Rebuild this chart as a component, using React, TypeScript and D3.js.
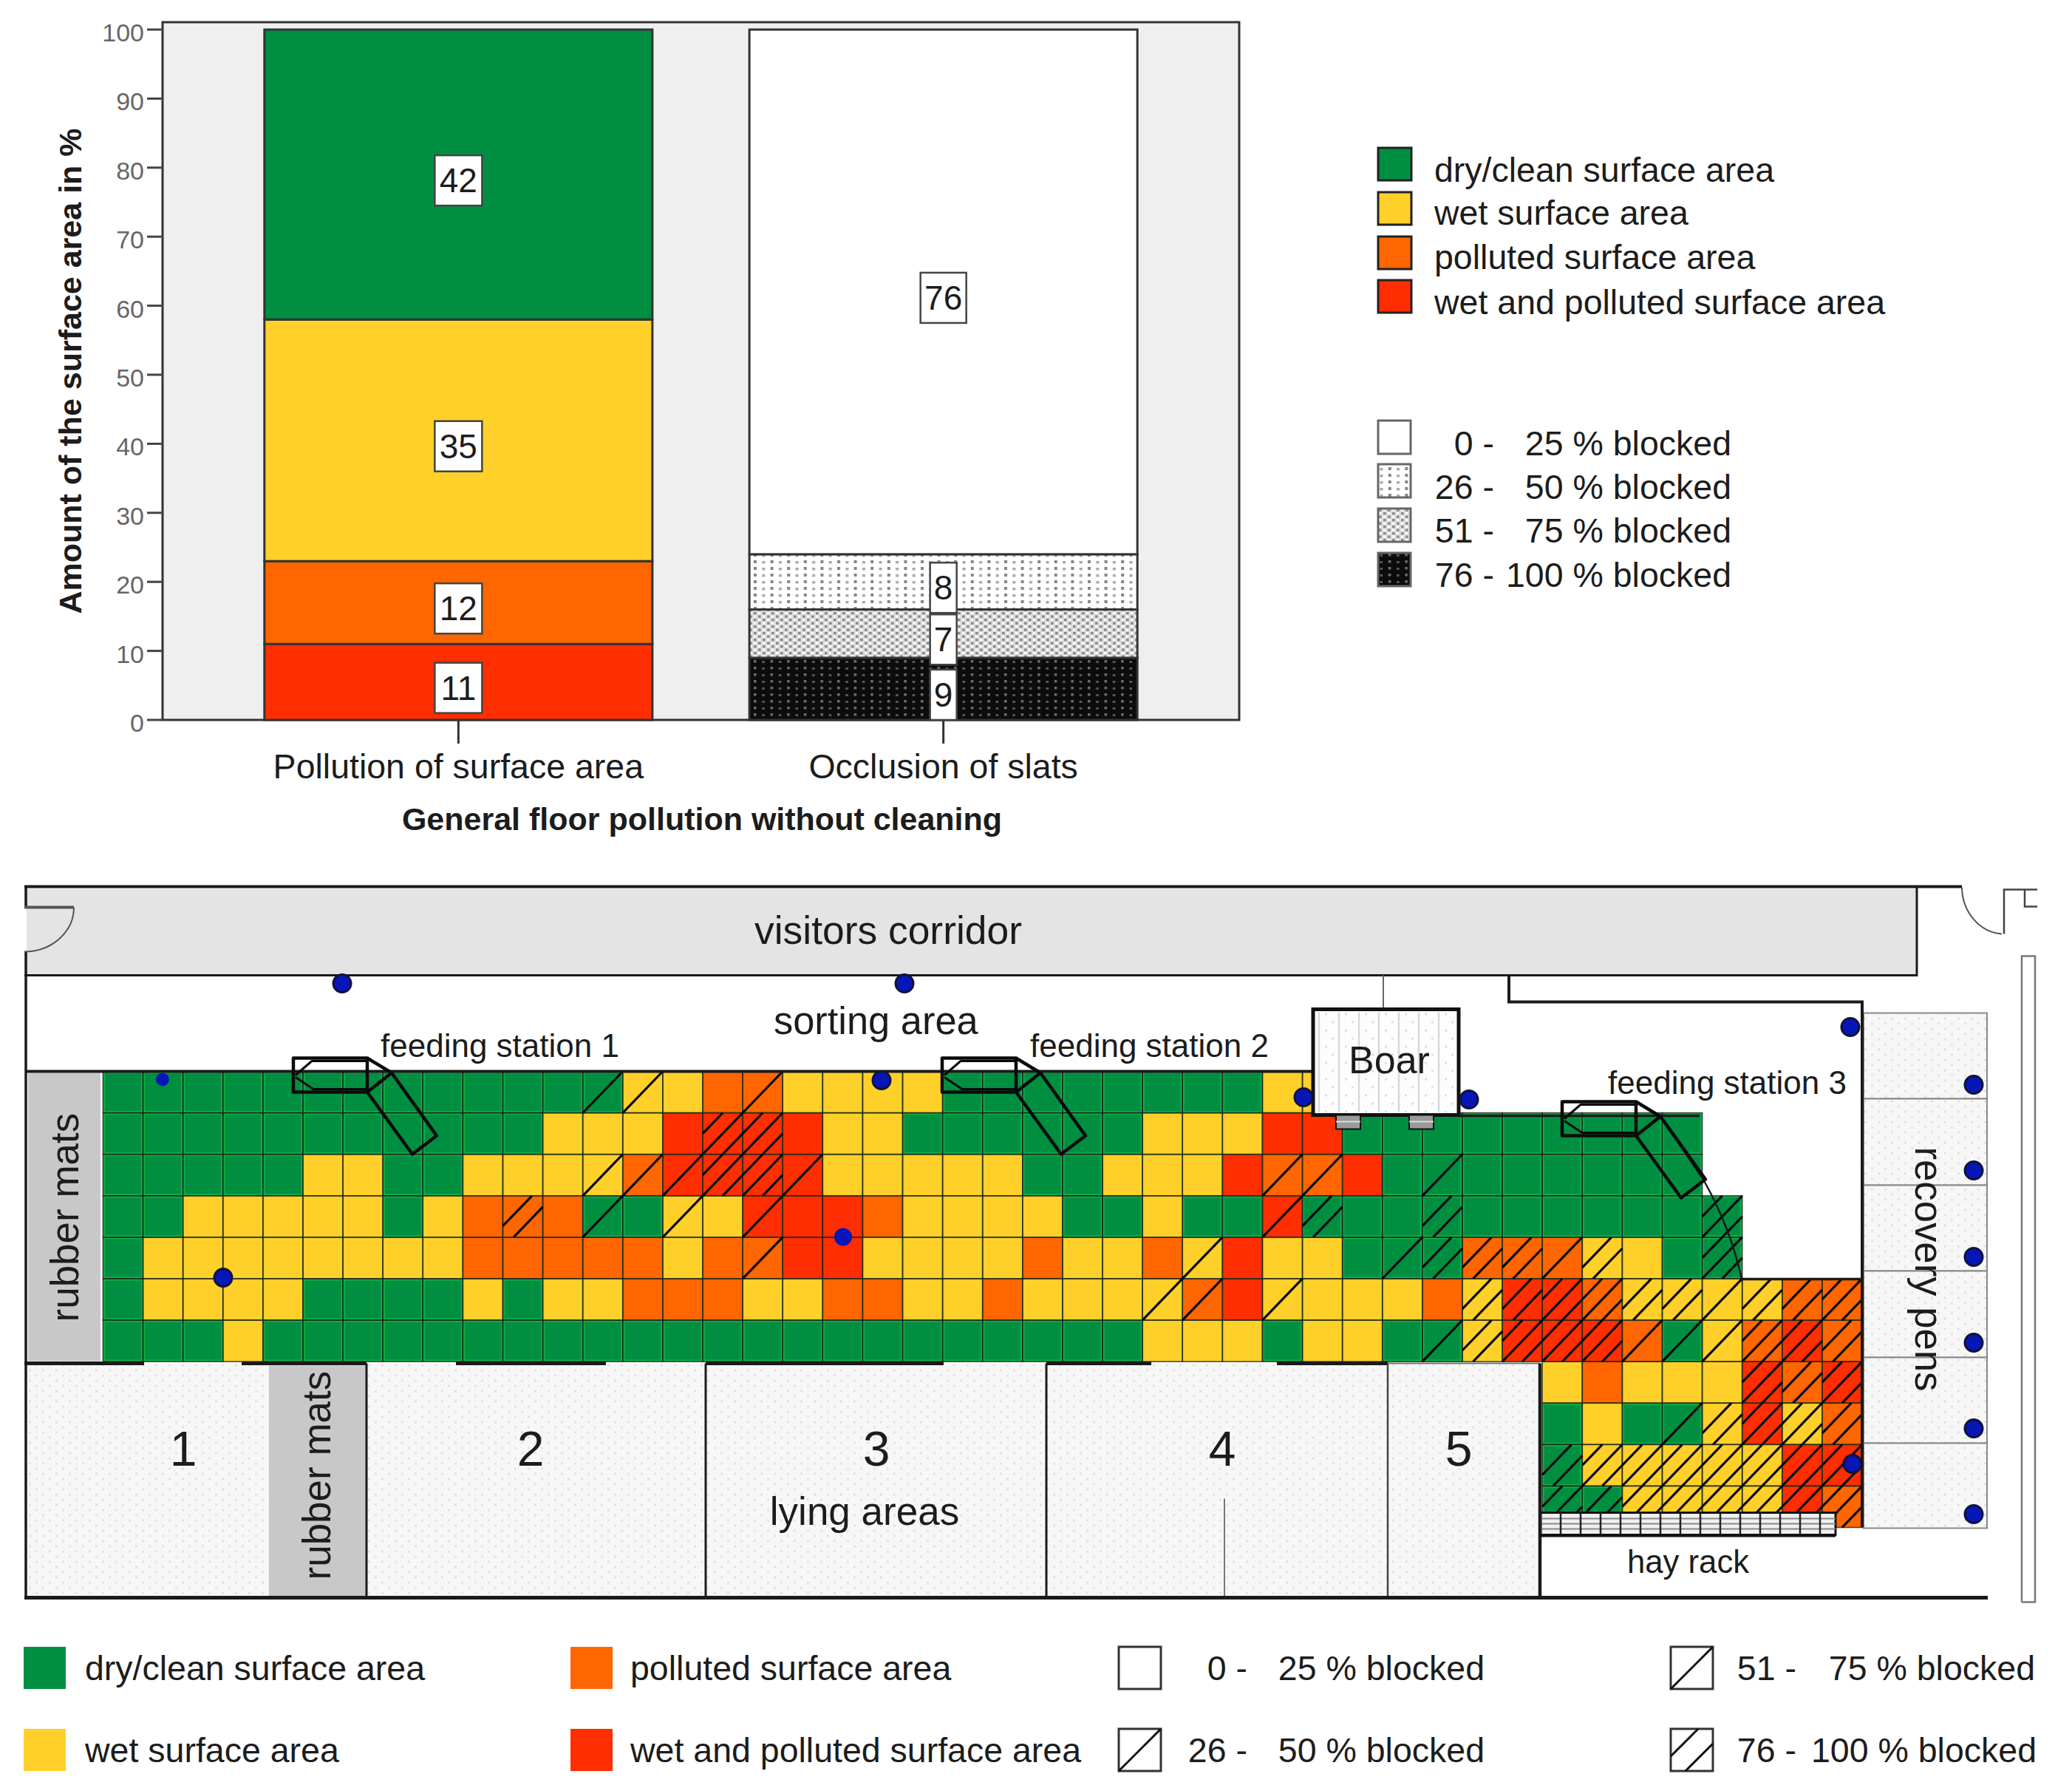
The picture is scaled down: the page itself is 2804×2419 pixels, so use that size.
import React from 'react';
import * as d3 from 'd3';

// ---- bar chart data ----
const barCategories = ['Pollution of surface area', 'Occlusion of slats'];
const pollutionValues = [11, 12, 35, 42];
const occlusionValues = [9, 7, 8, 76];
const yTicks = [0, 10, 20, 30, 40, 50, 60, 70, 80, 90, 100];

const surfaceLabels = ['dry/clean surface area', 'wet surface area', 'polluted surface area', 'wet and polluted surface area'];
const blockedFrom = ['0 -', '26 -', '51 -', '76 -'];
const blockedTo = ['25 % blocked', '50 % blocked', '75 % blocked', '100 % blocked'];

// ---- floor plan data, one string per row: G dry, Y wet, O polluted, R wet+polluted, . no cell ----
const floorFill = [
  'GGGGGGGGGGGGGYYOOYYYYGGGGGGGGYY',
  'GGGGGGGGGGGYYYRRRRYYGGGGGGYYYRRGGGGGGGGG',
  'GGGGGYYGGYYYYORRRRYYYYYGGYYYROORGGGGGGGG',
  'GGYYYYYGYOOOGGYYRRROYYYYGGYGGRGGGGGGGGGGG',
  'GYYYYYYYYOOOOOYOORRYYYYOYYOYRYYGGGOOOYYGG',
  'GYYYYGGGGYGYYOOOYYOOYYOYYYYORYYYYOYRROYYYYOO',
  'GGGYGGGGGGGGGGGGGGGGGGGGGGYYYGYYGGYRRROGYORO',
  '....................................YOYYYROR',
  '....................................GYGGYRYO',
  '....................................GYYYYYRR',
  '....................................GGYYYYRO',
];
// number of diagonal hatch lines per cell (slat occlusion class)
const floorHatch = [
  '0000000000001100100000000000000',
  '0000000000000003300000000000000000000000',
  '0000000000001113310000000000011001000000',
  '00000000002010101000000000000120020000003',
  '00000000000000001000000000010000122212003',
  '00000000000000000000000000110100002233221223',
  '00000000000000000000000000000000012333111332',
  '....................................00000323',
  '....................................00012332',
  '....................................23333333',
  '....................................32333333',
];

const lyingAreaNames = ['1', '2', '3', '4', '5'];
const lyingAreaNameX = [248, 718, 1186, 1654, 1974];
const lyingDividers = [496, 955, 1416, 1878, 2084];
const penEdges = [1370, 1486, 1603, 1719, 1836, 1952, 2067];
const drinkers = [
  [463, 1330], [1224, 1330], [220, 1460], [1193, 1461], [1764, 1484], [1988, 1487], [2504, 1389],
  [302, 1728], [1141, 1673], [2507, 1980],
  [2671, 1467], [2671, 1583], [2671, 1700], [2671, 1816], [2671, 1932], [2671, 2048],
];
const stationOrigins = [[397, 1430], [1275, 1430], [2114, 1489]];
const stationNames = ['feeding station 1', 'feeding station 2', 'feeding station 3'];
const stationNameAt = [[515, 1428], [1394, 1428], [2176, 1478]];
const wallGaps = [[33, 195], [327, 496], [617, 820], [955, 1277], [1416, 1558], [1728, 1878]];

const colors: Record<string, string> = { G: '#008f41', Y: '#ffd02a', O: '#ff6600', R: '#ff2e00' };
const surfaceColors = [colors.G, colors.Y, colors.O, colors.R];
const pollutionColors = [colors.R, colors.O, colors.Y, colors.G];
const occlusionFills = ['url(#slat3)', 'url(#slat2)', 'url(#slat1)', '#ffffff'];
const blockedFills = ['#ffffff', 'url(#slat1)', 'url(#slat2)', 'url(#slat3)'];

const font = '"Liberation Sans", Arial, sans-serif';
const ink = '#1c1c1c';

const y = d3.scaleLinear().domain([0, 100]).range([974, 40]);
const x = d3.scaleBand<string>().domain(barCategories).range([220, 1677]).paddingInner(0.2).paddingOuter(0.21);
const col = d3.scaleLinear().domain([0, 44]).range([139.4, 2520]);
const row = d3.scaleLinear().domain([0, 11]).range([1448, 2065]);

const Txt = ({ at, size = 46.5, bold, anchor, fill = ink, rotate, children }: any) => (
  <text
    transform={`translate(${at[0]},${at[1]})${rotate ? ` rotate(${rotate})` : ''}`}
    fontFamily={font}
    fontSize={size}
    fontWeight={bold ? 'bold' : 'normal'}
    textAnchor={anchor || 'start'}
    fill={fill}
  >
    {children}
  </text>
);

// a stacked column with white value boxes, values drawn through the y scale
function StackedBar({ name, values, fills, boxW }: { name: string; values: number[]; fills: string[]; boxW: number[] }) {
  const tops = d3.cumsum(values);
  const bx = x(name) as number;
  const w = x.bandwidth();
  const cx = bx + w / 2;
  return (
    <g>
      {values.map((v, i) => (
        <rect key={i} x={bx} y={y(tops[i])} width={w} height={y(tops[i] - v) - y(tops[i])} fill={fills[i]} stroke="#333" strokeWidth={3} />
      ))}
      <line x1={cx} x2={cx} y1={y(0)} y2={1006} stroke="#333" strokeWidth={3} />
      {values.map((v, i) => {
        const my = y(tops[i] - v / 2) + 8;
        return (
          <g key={i}>
            <rect x={cx - boxW[i] / 2} y={my - 34} width={boxW[i]} height={68} fill="#fff" stroke="#444" strokeWidth={2.5} />
            <Txt at={[cx, my + 16]} size={46} anchor="middle">{v}</Txt>
          </g>
        );
      })}
      <Txt at={[cx, 1053]} anchor="middle">{name}</Txt>
    </g>
  );
}

function hatchLines(c: number, r: number, level: number) {
  const offsets = level === 1 ? [0] : level === 2 ? [-0.27, 0.27] : [-0.5, 0, 0.5];
  const x0 = col(c), x1 = col(c + 1), y0 = row(r), y1 = row(r + 1);
  const w = x1 - x0, h = y1 - y0;
  return offsets.map(t =>
    t >= 0
      ? [x0 + t * w, y1, x1, y0 + t * h]
      : [x0, y1 + t * h, x1 + t * w, y0]
  );
}

function FloorGrid() {
  const cells: { c: number; r: number; k: string; level: number }[] = [];
  floorFill.forEach((line, r) => {
    line.split('').forEach((k, c) => {
      if (k !== '.') cells.push({ c, r, k, level: +floorHatch[r][c] });
    });
  });
  return (
    <g>
      {cells.map(d => (
        <rect key={`f${d.r}-${d.c}`} x={col(d.c)} y={row(d.r)} width={col(d.c + 1) - col(d.c)} height={row(d.r + 1) - row(d.r)} fill={colors[d.k]} />
      ))}
      {cells.filter(d => d.k === 'G').map(d => (
        <rect key={`g${d.r}-${d.c}`} x={col(d.c) + 1.5} y={row(d.r) + 1.5} width={col(d.c + 1) - col(d.c) - 3} height={row(d.r + 1) - row(d.r) - 3} fill="none" stroke="#12b24a" strokeWidth={2} />
      ))}
      {cells.map(d => (
        <rect key={`b${d.r}-${d.c}`} x={col(d.c)} y={row(d.r)} width={col(d.c + 1) - col(d.c)} height={row(d.r + 1) - row(d.r)} fill="none" stroke="#1a2a1a" strokeWidth={1.6} strokeOpacity={0.8} />
      ))}
      {cells.filter(d => d.level > 0).flatMap(d =>
        hatchLines(d.c, d.r, d.level).map((l, i) => (
          <line key={`h${d.r}-${d.c}-${i}`} x1={l[0]} y1={l[1]} x2={l[2]} y2={l[3]} stroke="#0a0a0a" strokeWidth={3.2} />
        ))
      )}
    </g>
  );
}

function Station({ at }: { at: number[] }) {
  return (
    <g transform={`translate(${at[0]},${at[1]})`} fill="none" stroke="#0a0a0a" strokeWidth={4.5} strokeLinejoin="round">
      <rect x={0} y={0} width={100} height={46} />
      <path d="M3,23 L25,4 L98,4 M3,26 L27,42 L98,42" strokeWidth={3} />
      <path d="M100,0 L133,20 L194,105 L161,130 L100,46 L133,20" />
    </g>
  );
}

function BarLegends() {
  return (
    <g>
      {surfaceLabels.map((label, i) => {
        const sy = [200, 260, 320, 379][i];
        return (
          <g key={label}>
            <rect x={1865} y={sy} width={45} height={44} fill={surfaceColors[i]} stroke="#222" strokeWidth={3} />
            <Txt at={[1941, [246, 304, 364, 425][i]]}>{label}</Txt>
          </g>
        );
      })}
      {blockedTo.map((label, i) => {
        const sy = [569, 628, 688, 748][i];
        return (
          <g key={label}>
            <rect x={1865} y={sy} width={44} height={45} fill={blockedFills[i]} stroke="#666" strokeWidth={3} />
            <Txt at={[2022, [616, 675, 734, 794][i]]} anchor="end">{blockedFrom[i]}</Txt>
            <Txt at={[2343, [616, 675, 734, 794][i]]} anchor="end">{label}</Txt>
          </g>
        );
      })}
    </g>
  );
}

function PlanLegend() {
  const rowTop = [2228, 2339];
  const base = [2273, 2384];
  const swatchX = [32, 772];
  const textX = [115, 853];
  return (
    <g>
      {surfaceLabels.map((label, i) => {
        const cl = i < 2 ? 0 : 1, rw = i % 2;
        return (
          <g key={label}>
            <rect x={swatchX[cl]} y={rowTop[rw]} width={57} height={57} fill={surfaceColors[i]} />
            <Txt at={[textX[cl], base[rw]]}>{label}</Txt>
          </g>
        );
      })}
      {blockedTo.map((label, i) => {
        const cl = i < 2 ? 0 : 1, rw = i % 2;
        const sx = [1514, 2261][cl];
        const s = 57;
        return (
          <g key={label}>
            <rect x={sx} y={rowTop[rw]} width={s} height={s} fill="#fff" stroke="#333" strokeWidth={3} />
            {(i === 1 || i === 2) && <line x1={sx} y1={rowTop[rw] + s} x2={sx + s} y2={rowTop[rw]} stroke="#111" strokeWidth={3} />}
            {i === 3 && <path d={`M${sx},${rowTop[rw] + s * 0.65} L${sx + s * 0.65},${rowTop[rw]} M${sx + s * 0.35},${rowTop[rw] + s} L${sx + s},${rowTop[rw] + s * 0.35}`} stroke="#111" strokeWidth={3} />}
            <Txt at={[[1688, 1688, 2431, 2431][i], base[rw]]} anchor="end">{blockedFrom[i]}</Txt>
            <Txt at={[[2009, 2009, 2754, 2756][i], base[rw]]} anchor="end">{label}</Txt>
          </g>
        );
      })}
    </g>
  );
}

export default function App() {
  const hayX = d3.range(2085, 2484, 27);
  return (
    <svg width={2804} height={2419} style={{ position: 'absolute', left: 0, top: 0, background: '#fff' }}>
      <defs>
        <pattern id="slat1" width={22.6} height={9} patternUnits="userSpaceOnUse">
          <rect width={22.6} height={9} fill="#fff" />
          <rect x={3} y={2} width={4} height={4} fill="#858585" />
          <rect x={14.3} y={3} width={4} height={3.5} fill="#a8a8a8" />
        </pattern>
        <pattern id="slat2" width={12} height={9} patternUnits="userSpaceOnUse">
          <rect width={12} height={9} fill="#dcdcdc" />
          <rect x={0} y={0} width={3.6} height={3.4} fill="#8a8a8a" />
          <rect x={6} y={4.5} width={3.6} height={3.4} fill="#8a8a8a" />
          <rect x={6} y={0} width={3} height={3} fill="#fff" />
          <rect x={0} y={4.5} width={3} height={3} fill="#fff" />
        </pattern>
        <pattern id="slat3" width={22.6} height={9} patternUnits="userSpaceOnUse">
          <rect width={22.6} height={9} fill="#0c0c0c" />
          <rect x={3} y={2} width={3.5} height={3.5} fill="#6e6e6e" />
          <rect x={14.3} y={3} width={3.5} height={3} fill="#5a5a5a" />
        </pattern>
        <pattern id="lying" width={18} height={14} patternUnits="userSpaceOnUse">
          <rect width={18} height={14} fill="#f7f7f7" />
          <rect x={3} y={3} width={3} height={3} fill="#e2e2e2" />
          <rect x={12} y={10} width={3} height={3} fill="#e2e2e2" />
        </pattern>
        <pattern id="boarFloor" width={27} height={22} patternUnits="userSpaceOnUse">
          <rect width={27} height={22} fill="#fdfdfd" />
          <rect x={11} y={5} width={3} height={3} fill="#e0e0e0" />
          <rect x={20} y={16} width={3} height={3} fill="#e0e0e0" />
        </pattern>
      </defs>

      {/* bar chart */}
      <rect x={220} y={30} width={1457} height={944} fill="#efefef" stroke="#333" strokeWidth={3} />
      <StackedBar name={barCategories[0]} values={pollutionValues} fills={pollutionColors} boxW={[64, 64, 64, 64]} />
      <StackedBar name={barCategories[1]} values={occlusionValues} fills={occlusionFills} boxW={[36, 36, 36, 62]} />
      {yTicks.map(t => (
        <g key={t}>
          <line x1={199} x2={220} y1={y(t)} y2={y(t)} stroke="#444" strokeWidth={3} />
          <Txt at={[195, y(t) + 16]} size={34} anchor="end" fill="#666">{t}</Txt>
        </g>
      ))}
      <Txt at={[110, 502]} size={43} bold anchor="middle" rotate={-90}>Amount of the surface area in %</Txt>
      <Txt at={[950, 1123]} size={43} bold anchor="middle">General floor pollution without cleaning</Txt>
      <BarLegends />

      <g transform="translate(0,1.5)">
        {/* floor plan background */}
        <rect x={36} y={1201} width={2558} height={116} fill="#e4e4e4" />
        <rect x={38} y={1842} width={2046} height={316} fill="url(#lying)" />
        <rect x={38} y={1450} width={98} height={390} fill="#c8c8c8" />
        <rect x={364} y={1846} width={132} height={312} fill="#c8c8c8" />
        {penEdges.slice(1).map((e, i) => (
          <rect key={e} x={2522} y={penEdges[i] - 1} width={167} height={e - penEdges[i]} fill="url(#lying)" stroke="#888" strokeWidth={2} />
        ))}

        <FloorGrid />

        {/* walls */}
        <g fill="none" stroke="#1a1a1a">
          <path d="M33,1198 H2655" strokeWidth={4} />
          <path d="M35,1198 V1226 M35,1286 V2160" strokeWidth={3.5} />
          <path d="M33,1226 H100" strokeWidth={4} stroke="#555" />
          <path d="M100,1226 A67,60 0 0 1 33,1286" strokeWidth={2} stroke="#555" />
          <path d="M33,1318 H2594 V1198" strokeWidth={3} />
          <path d="M1872,1318 V1364" strokeWidth={2} stroke="#666" />
          <path d="M2042,1318 V1354 H2520 V2065" strokeWidth={4} />
          <path d="M2357,1729 H2520" strokeWidth={3.5} />
          <path d="M35,1448 H1777" strokeWidth={4} />
          <path d="M1974,1508 H2300" strokeWidth={3.5} />
          <path d="M2248,1510 L2306,1596 Q2342,1660 2357,1729" strokeWidth={2.5} />
          {wallGaps.map(g => <path key={g[0]} d={`M${g[0]},1843 H${g[1]}`} strokeWidth={5} />)}
          <path d="M1878,1843 H2084" strokeWidth={2} stroke="#777" />
          {lyingDividers.map((d, i) => (
            <path key={d} d={`M${d},1843 V2160`} strokeWidth={i === 4 ? 4.5 : i === 3 ? 2.5 : 3} stroke={i === 3 ? '#444' : '#1a1a1a'} />
          ))}
          <path d="M1657,2026 V2160" strokeWidth={2} stroke="#777" />
          <path d="M33,2160 H2690" strokeWidth={5} />
          {/* right door and outer wall */}
          <path d="M2655,1199 A58,64 0 0 0 2709,1262" strokeWidth={2} stroke="#555" />
          <path d="M2712,1262 V1202 H2757 M2740,1202 V1225 H2757" strokeWidth={2.5} stroke="#444" />
          <path d="M2736,2166 V1292 H2754 V2166 H2736" strokeWidth={2.5} stroke="#777" />
        </g>

        {/* boar pen */}
        <rect x={1777} y={1364} width={197} height={143} fill="url(#boarFloor)" stroke="#111" strokeWidth={5} />
        <g stroke="#d8d8d8" strokeWidth={2.5}>
          {d3.range(1785, 1974, 27).map(v => <line key={v} x1={v} x2={v} y1={1368} y2={1503} />)}
        </g>
        {[1808, 1907].map(v => (
          <g key={v}>
            <rect x={v} y={1507} width={33} height={19} fill="#9a9a9a" stroke="#111" strokeWidth={2} />
            <line x1={v} x2={v + 33} y1={1516} y2={1516} stroke="#ddd" strokeWidth={2} />
          </g>
        ))}

        {/* hay rack */}
        <rect x={2085} y={2045} width={399} height={30} fill="#f0f0f0" stroke="#111" strokeWidth={3} />
        <g stroke="#888" strokeWidth={2}>
          {[2053, 2060, 2067].map(v => <line key={v} x1={2085} x2={2484} y1={v} y2={v} />)}
        </g>
        <g stroke="#222" strokeWidth={2.5}>
          {hayX.map(v => <line key={v} x1={v} x2={v} y1={2045} y2={2075} />)}
        </g>
        <path d="M2084,2076 H2484" stroke="#111" strokeWidth={4} />

        {stationOrigins.map(o => <Station key={o[0]} at={o} />)}

        {drinkers.map((d, i) => (
          <circle key={i} cx={d[0]} cy={d[1] - 1} r={i === 2 ? 9 : 12} fill="#0716b8" stroke="#10123a" strokeWidth={i === 2 || i === 8 ? 0 : 3} />
        ))}

        {/* plan labels */}
        <Txt at={[1202, 1275]} size={53.4} anchor="middle">visitors corridor</Txt>
        <Txt at={[1047, 1397]} size={52.4}>sorting area</Txt>
        {stationNames.map((n, i) => <Txt key={n} at={stationNameAt[i]} size={44}>{n}</Txt>)}
        <Txt at={[1880, 1450]} size={52} anchor="middle">Boar</Txt>
        <Txt at={[2202, 2126]} size={43.7}>hay rack</Txt>
        <Txt at={[2592, 1550]} size={52.7} rotate={90}>recovery pens</Txt>
        <Txt at={[106, 1787]} size={53} rotate={-90}>rubber mats</Txt>
        <Txt at={[447, 2136]} size={53} rotate={-90}>rubber mats</Txt>
        {lyingAreaNames.map((n, i) => <Txt key={n} at={[lyingAreaNameX[i], 1981]} size={66} anchor="middle">{n}</Txt>)}
        <Txt at={[1170, 2061]} size={53} anchor="middle">lying areas</Txt>
      </g>

      <PlanLegend />
    </svg>
  );
}
